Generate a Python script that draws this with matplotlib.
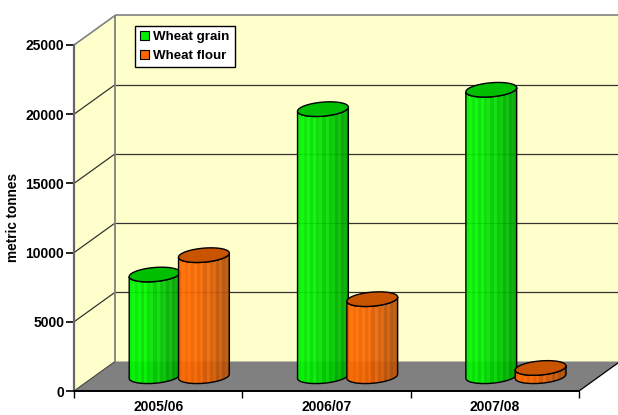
import numpy as np
import matplotlib
matplotlib.use("Agg")
import matplotlib.pyplot as plt
from matplotlib.patches import Polygon, Patch
from matplotlib.transforms import IdentityTransform
from matplotlib.colors import LinearSegmentedColormap

categories = ["2005/06", "2006/07", "2007/08"]
wheat_grain = [7350, 19300, 20700]
wheat_flour = [8750, 5570, 600]
series_names = ["Wheat grain", "Wheat flour"]
yticks = [0, 5000, 10000, 15000, 20000, 25000]
ylabel = "metric tonnes"

W, H = 618, 415
plt.rcParams["font.family"] = ["Liberation Sans", "DejaVu Sans"]
plt.rcParams["font.weight"] = "bold"
fig = plt.figure(figsize=(W / 100, H / 100), dpi=100, facecolor="white")
L, R, T, B = 74, 579, 45, 391
ax = fig.add_axes([L / W, 1 - B / H, (R - L) / W, (B - T) / H])
ax.set_xlim(0, 3)
ax.set_ylim(0, 25000)
ax.patch.set_visible(False)

DX, DY = 41, 29.5
BAR_W = 0.293


def px(x, v, depth=0.0):
    p = ax.transData.transform((x, v))
    return np.array([p[0] + DX * depth, p[1] + DY * depth])


def poly(points, **kw):
    patch = Polygon(points, closed=True, transform=IdentityTransform(), clip_on=False, **kw)
    ax.add_patch(patch)
    return patch


WALL = "#FFFFCC"
GRAY = "#808080"
ymax = yticks[-1]
poly([px(0, 0), px(0, ymax), px(0, ymax, 1), px(0, 0, 1)], fc=WALL, ec="none", zorder=1)
poly([px(0, 0, 1), px(0, ymax, 1), px(3, ymax, 1), px(3, 0, 1)], fc=WALL, ec="none", zorder=1)
poly([px(0, 0), px(0, 0, 1), px(3, 0, 1), px(3, 0)], fc=GRAY, ec="none", zorder=1.2)


def seg(a, b, **kw):
    ax.plot([a[0], b[0]], [a[1], b[1]], transform=IdentityTransform(), clip_on=False,
            solid_capstyle="butt", **kw)


for v in yticks[1:]:
    c = GRAY if v == ymax else "#333333"
    lw = 1.2 if v == ymax else 0.9
    seg(px(0, v), px(0, v, 1), color=c, lw=lw, zorder=1.5)
    seg(px(0, v, 1), px(3, v, 1), color=c, lw=lw, zorder=1.5)
seg(px(0, 0), px(0, 0, 1), color="#444444", lw=0.8, zorder=1.5)
seg(px(0, 0, 1), px(0, ymax, 1), color=GRAY, lw=1.3, zorder=1.6)
seg(px(3, 0), px(3, 0, 1), color="black", lw=0.9, zorder=1.5)

A, Bb, TILT = 25.5, 7.0, np.radians(5)
SHIFT = 0.6


def ellipse(c, t):
    return np.column_stack([
        c[0] + SHIFT + A * np.cos(t) * np.cos(TILT) - Bb * np.sin(t) * np.sin(TILT),
        c[1] + A * np.cos(t) * np.sin(TILT) + Bb * np.sin(t) * np.cos(TILT),
    ])


LIGHT = np.array([1, 1.06, 1, 1.1, 1, 1.14, 1.03, 1.12, 1, 1.16, 1.04, 1.14, 1, 1.16, 1.02, 1.12, 1, 1.08, 1, 1.04])


def cylinder(x, v, low, high, lid, z):
    base = px(x, 0, 0.5)
    top = px(x, v, 0.5)
    t = np.linspace(np.pi, 2 * np.pi, 60)
    body = np.vstack([ellipse(base, t), ellipse(top, t[::-1])])
    cmap = LinearSegmentedColormap.from_list("c", [low, high])
    shade = np.linspace(0, 1, 50) ** 1.3
    bands = np.repeat(LIGHT, 3)[:50]
    rgba = cmap(shade)[None, :, :].copy()
    rgba[..., :3] = np.clip(rgba[..., :3] * bands[None, :, None], 0, 1)
    x0, x1 = body[:, 0].min(), body[:, 0].max()
    y0, y1 = body[:, 1].min(), body[:, 1].max()
    im = ax.imshow(rgba, extent=(x0, x1, y0, y1), transform=IdentityTransform(), aspect="auto",
                   zorder=z, interpolation="nearest", alpha=0.93)
    clip = Polygon(body, closed=True, transform=IdentityTransform())
    im.set_clip_path(clip)
    poly(body, fc="none", ec="black", lw=1.0, zorder=z + 0.01)
    poly(ellipse(top, np.linspace(0, 2 * np.pi, 100)), fc=lid, ec="black", lw=1.0, zorder=z + 0.02)


for i in range(len(categories)):
    mid = i + 0.5
    cylinder(mid - BAR_W / 2, wheat_grain[i], "#00F000", "#009000", "#00BE00", 3 + i * 0.2)
    cylinder(mid + BAR_W / 2, wheat_flour[i], "#FF6600", "#A04A08", "#C85400", 3.1 + i * 0.2)

ax.set_xlim(0, 3)
ax.set_ylim(0, ymax)

ax.set_yticks(yticks)
ax.set_xticks(range(len(categories) + 1))
ax.set_xticklabels([])
ax.set_xticks([i + 0.5 for i in range(len(categories))], minor=True)
ax.set_xticklabels(categories, minor=True, fontsize=10, fontweight="bold")
ax.tick_params(axis="x", which="minor", length=0, pad=6.5)
ax.tick_params(axis="x", which="major", length=5, width=1, color="black")
ax.tick_params(axis="y", length=5.5, width=1.2, color="black", pad=1.5, labelsize=10)
for s in ("top", "right"):
    ax.spines[s].set_visible(False)
ax.spines["left"].set_color("#666666")
ax.spines["left"].set_linewidth(1.6)
ax.spines["bottom"].set_color("black")
ax.spines["bottom"].set_linewidth(1.4)
ax.spines["left"].set_zorder(6)
ax.spines["bottom"].set_zorder(6)
fig.text(13 / W, 1 - 218 / H, ylabel, rotation=90, ha="center", va="center", fontsize=9.8, fontweight="bold")

handles = [Patch(fc="#00F000", ec="black", lw=0.8), Patch(fc="#FF6600", ec="black", lw=0.8)]
leg = ax.legend(handles, series_names, loc="upper left",
                bbox_to_anchor=(135 / W, 1 - 26 / H), bbox_transform=fig.transFigure,
                fontsize=9.6, frameon=True, fancybox=False, framealpha=1, edgecolor="black",
                handlelength=0.7, handleheight=0.7, handletextpad=0.3, labelspacing=0.48,
                borderpad=0.38, borderaxespad=0)
leg.get_frame().set_linewidth(1.0)
leg.set_zorder(10)

fig.savefig("out.png", dpi=100, facecolor="white")
